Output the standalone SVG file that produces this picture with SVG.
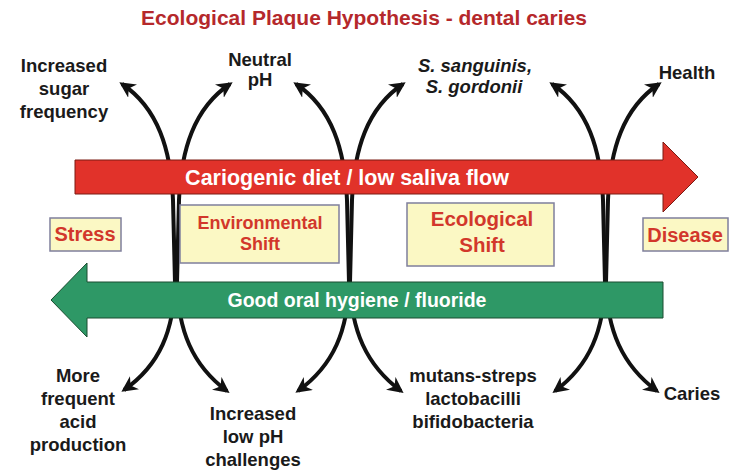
<svg xmlns="http://www.w3.org/2000/svg" width="739" height="473" viewBox="0 0 739 473">
<defs>
<marker id="ah" viewBox="0 0 10 10" refX="8" refY="5" markerWidth="4" markerHeight="4" orient="auto-start-reverse">
<path d="M0,0 L10,5 L0,10 L3,5 z" fill="#111"/>
</marker>
<style>
text{font-family:"Liberation Sans",Arial,sans-serif;font-weight:bold;text-anchor:middle}
.lbl{font-size:18.5px;fill:#1a1a1a}
.conn{fill:none;stroke:#111;stroke-width:4;marker-start:url(#ah);marker-end:url(#ah)}
.box{fill:#fbf8c4;stroke:#7f7f9c;stroke-width:1.5}
.boxt{fill:#d2372b}
.bar{fill:#fff}
</style>
</defs>
<rect width="739" height="473" fill="#fff"/>
<text x="364" y="25" font-size="21" fill="#b5282b">Ecological Plaque Hypothesis - dental caries</text>

<g id="connectors">
<path class="conn" d="M122 84 C158 108,171 150,173 200 L175 282 C174 330,160 365,124 390"/>
<path class="conn" d="M230 84 C194 108,181 150,179 200 L177 282 C178 330,192 365,227 391"/>
<path class="conn" d="M296 84 C332 108,345 150,347 200 L349 282 C348 330,334 365,298 391"/>
<path class="conn" d="M403 84 C367 108,354 150,352 200 L350 282 C351 330,366 365,401 391"/>
<path class="conn" d="M552 84 C588 108,601 150,603 200 L605 282 C604 330,590 365,555 391"/>
<path class="conn" d="M659 84 C623 108,610 150,608 200 L606 282 C607 330,622 365,657 391"/>
</g>

<g id="diet-arrow">
<path d="M75 160 L663 160 L663 142 L698 177 L663 212 L663 194 L75 194 Z" fill="#e1322a" stroke="#7a1a12" stroke-width="1"/>
<text class="bar" x="347" y="185" font-size="21.5">Cariogenic diet / low saliva flow</text>
</g>
<g id="hygiene-arrow">
<path d="M663 282 L87 282 L87 263 L51 300 L87 337 L87 318 L663 318 Z" fill="#2e9866" stroke="#1a4d30" stroke-width="1"/>
<text class="bar" x="357" y="307" font-size="19.5">Good oral hygiene / fluoride</text>
</g>

<g id="stress">
<rect class="box" x="50" y="218" width="71" height="33"/>
<text class="boxt" x="85" y="241" font-size="20">Stress</text>
</g>
<g id="disease">
<rect class="box" x="643" y="218" width="85" height="33"/>
<text class="boxt" x="685" y="242" font-size="20">Disease</text>
</g>
<g id="environmental-shift">
<rect class="box" x="180" y="205" width="159" height="58"/>
<text class="boxt" x="260" y="229" font-size="18">Environmental</text>
<text class="boxt" x="260" y="250" font-size="18">Shift</text>
</g>
<g id="ecological-shift">
<rect class="box" x="407" y="203" width="147" height="63"/>
<text class="boxt" x="482" y="226" font-size="20.5">Ecological</text>
<text class="boxt" x="482" y="252" font-size="20.5">Shift</text>
</g>

<g id="increased-sugar">
<text class="lbl" x="64" y="72">Increased</text>
<text class="lbl" x="64" y="95">sugar</text>
<text class="lbl" x="64" y="118">frequency</text>
</g>
<g id="neutral-ph">
<text class="lbl" x="260" y="66">Neutral</text>
<text class="lbl" x="260" y="86">pH</text>
</g>
<g id="s-sanguinis">
<text class="lbl" x="475" y="72" font-style="italic">S. sanguinis,</text>
<text class="lbl" x="474" y="93" font-style="italic">S. gordonii</text>
</g>
<g id="health">
<text class="lbl" x="687" y="79">Health</text>
</g>
<g id="acid-production">
<text class="lbl" x="78" y="382">More</text>
<text class="lbl" x="78" y="405">frequent</text>
<text class="lbl" x="78" y="428">acid</text>
<text class="lbl" x="78" y="451">production</text>
</g>
<g id="low-ph">
<text class="lbl" x="253" y="420">Increased</text>
<text class="lbl" x="253" y="443">low pH</text>
<text class="lbl" x="253" y="466">challenges</text>
</g>
<g id="mutans">
<text class="lbl" x="473" y="382">mutans-streps</text>
<text class="lbl" x="473" y="405">lactobacilli</text>
<text class="lbl" x="473" y="428">bifidobacteria</text>
</g>
<g id="caries">
<text class="lbl" x="692" y="400">Caries</text>
</g>
</svg>
